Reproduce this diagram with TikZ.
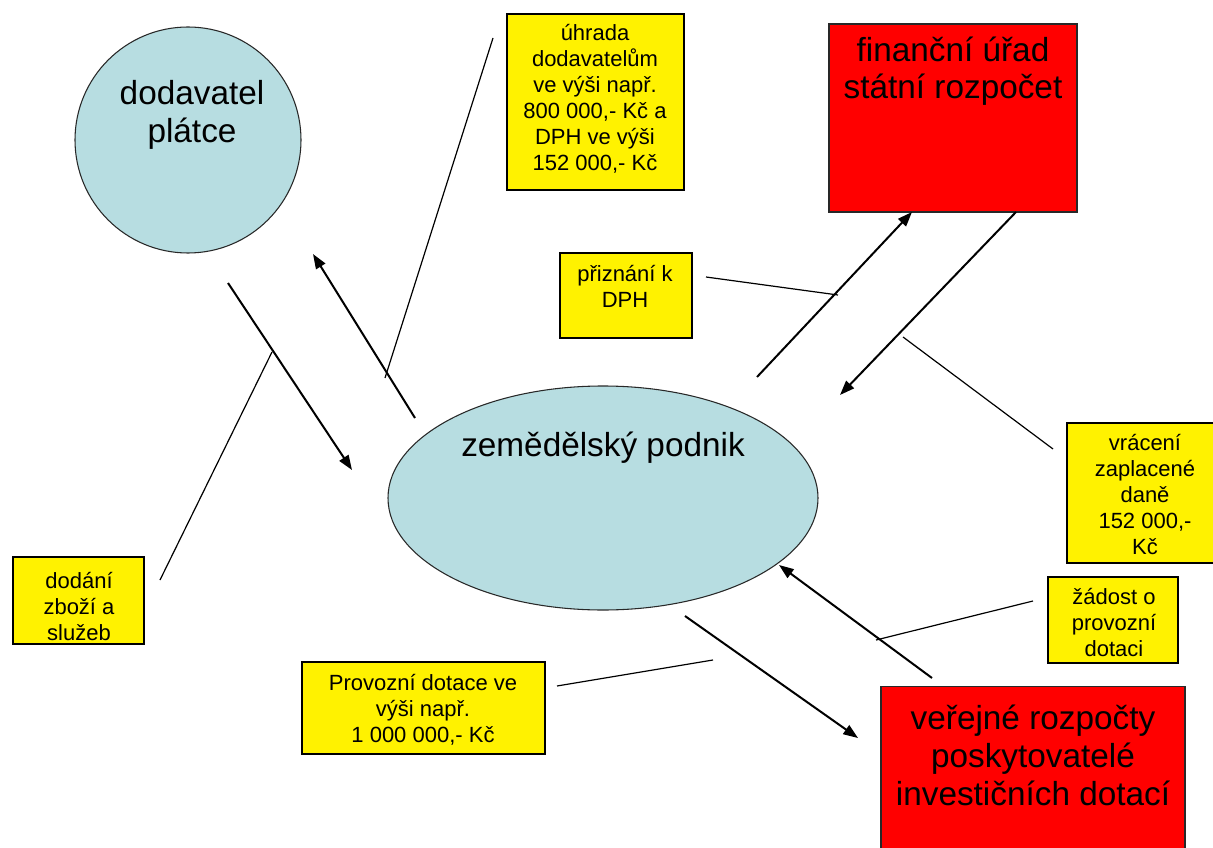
\documentclass[tikz,border=0pt]{standalone}
\usepackage{fontspec}
\setmainfont{Liberation Sans}
\usetikzlibrary{arrows.meta,shapes.geometric}
\definecolor{lblue}{RGB}{183,221,225}
\definecolor{bord}{RGB}{40,40,40}
\tikzset{
  ybox/.style={draw=black,line width=1.1pt,fill=yellow,inner sep=0pt,outer sep=0pt},
  rbox/.style={draw=bord,line width=0.9pt,fill=red,inner sep=0pt,outer sep=0pt},
  ytext/.style={align=center,font=\fontsize{16.5}{19.5}\selectfont,inner sep=0pt},
  bigtext/.style={align=center,font=\fontsize{25}{28}\selectfont,inner sep=0pt},
  arr/.style={line width=1.5pt,-{Triangle[length=11pt,width=8pt]}},
  callout/.style={line width=0.9pt},
}
\begin{document}
\begin{tikzpicture}[x=0.75pt,y=-0.75pt]
\clip (0,0) rectangle (1213,848);
\fill[white] (0,0) rectangle (1213,848);
% main shapes
\node[circle,draw=bord,line width=0.8pt,fill=lblue,minimum size=169.5pt,inner sep=0pt] (dod) at (188,140) {};
\node[bigtext] (dodt) at (192,115) {dodavatel\\plátce};
\node[ellipse,draw=bord,line width=0.8pt,fill=lblue,minimum width=322.5pt,minimum height=168pt,inner sep=0pt] (zem) at (603,498) {};
\node[bigtext] (zemt) at (603,448) {zemědělský podnik};
\node[rbox,minimum width=186pt,minimum height=141pt] (fu) at (953,118) {};
\node[bigtext] (fut) at (953,71) {finanční úřad\\státní rozpočet};
\node[rbox,minimum width=228pt,minimum height=130pt] (vr) at (1033,773.5) {};
\node[bigtext,font=\fontsize{25}{28.5}\selectfont] (vrt) at (1033,755) {veřejné rozpočty\\poskytovatelé\\investičních dotací};
% yellow boxes
\node[ybox,minimum width=132.75pt,minimum height=132pt] (uh) at (595.5,102) {};
\node[ytext] (uht) at (595,99) {úhrada\\dodavatelům\\ve výši např.\\800 000,- Kč a\\DPH ve výši\\ 152 000,- Kč};
\node[ybox,minimum width=99pt,minimum height=63.75pt] (pr) at (626,295.5) {};
\node[ytext] (prt) at (625,286) {přiznání k\\DPH};
\node[ybox,minimum width=114.75pt,minimum height=105pt] (vc) at (1143.5,493) {};
\node[ytext] (vct) at (1145,495) {vrácení\\zaplacené\\daně\\152 000,-\\Kč};
\node[ybox,minimum width=98.25pt,minimum height=65.25pt] (dd) at (78.5,600.5) {};
\node[ytext] (ddt) at (79,607) {dodání\\zboží a\\služeb};
\node[ybox,minimum width=182.25pt,minimum height=69pt] (pd) at (423.5,708) {};
\node[ytext] (pdt) at (423,710) {Provozní dotace ve\\výši např.\\1 000 000,- Kč};
\node[ybox,minimum width=97.5pt,minimum height=64.5pt] (zd) at (1113,620) {};
\node[ytext] (zdt) at (1114,623) {žádost o\\provozní\\dotaci};
% arrow end points
\coordinate (a1s) at (228,283); \coordinate (a1e) at (352,470);
\coordinate (a2s) at (415,418); \coordinate (a2e) at (313,254);
\coordinate (a3s) at (757,377); \coordinate (a3e) at (912,212);
\coordinate (a4s) at (1016,212); \coordinate (a4e) at (840,395);
\coordinate (a5s) at (932,678); \coordinate (a5e) at (779,565);
\coordinate (a6s) at (685,616); \coordinate (a6e) at (858,738);
\draw[arr] (a1s) -- (a1e);
\draw[arr] (a2s) -- (a2e);
\draw[arr] (a3s) -- (a3e);
\draw[arr] (a4s) -- (a4e);
\draw[arr] (a5s) -- (a5e);
\draw[arr] (a6s) -- (a6e);
% callout lines
\coordinate (c1s) at (493,38); \coordinate (c1e) at (385,378);
\coordinate (c2s) at (272,352); \coordinate (c2e) at (160,580);
\coordinate (c3s) at (706,277); \coordinate (c3e) at (838,295);
\coordinate (c4s) at (903,337); \coordinate (c4e) at (1053,449);
\coordinate (c5s) at (876,640); \coordinate (c5e) at (1033,601);
\coordinate (c6s) at (557,686); \coordinate (c6e) at (713,660);
\draw[callout] (c1s) -- (c1e);
\draw[callout] (c2s) -- (c2e);
\draw[callout] (c3s) -- (c3e);
\draw[callout] (c4s) -- (c4e);
\draw[callout] (c5s) -- (c5e);
\draw[callout] (c6s) -- (c6e);
\end{tikzpicture}
\end{document}
